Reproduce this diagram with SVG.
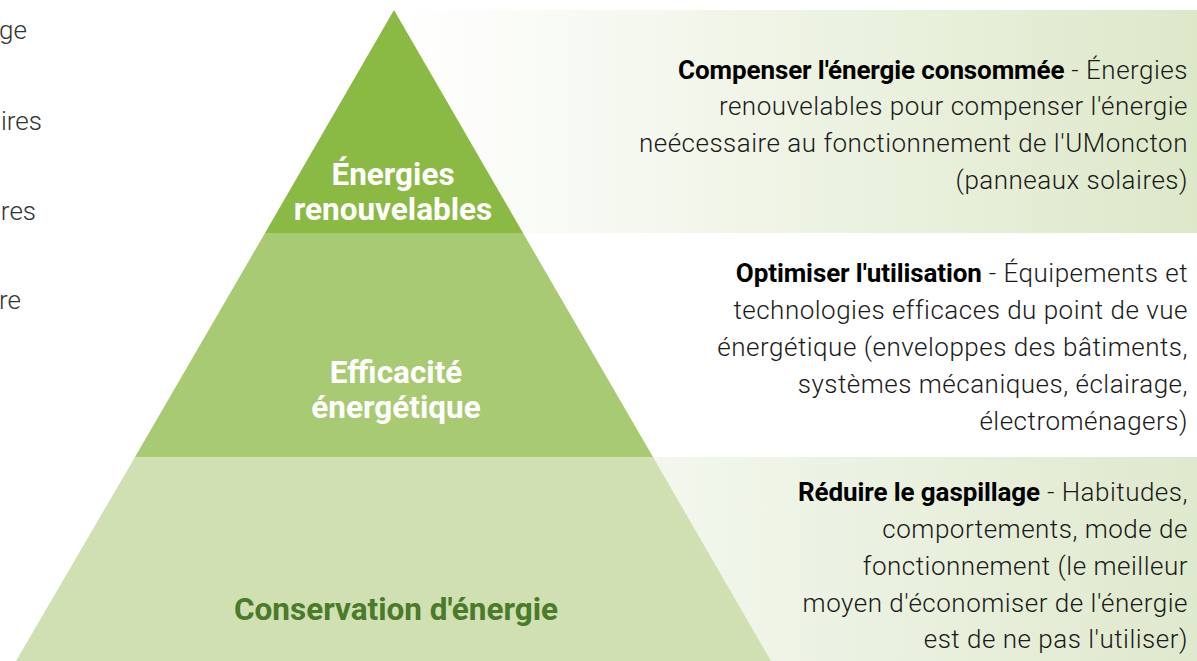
<svg xmlns="http://www.w3.org/2000/svg" width="1197" height="661" viewBox="0 0 1197 661">
<defs>
<linearGradient id="gTop" x1="0" y1="0" x2="1" y2="0">
<stop offset="0" stop-color="#ffffff"/>
<stop offset="1" stop-color="#dde8c9"/>
</linearGradient>
<linearGradient id="gBot" x1="0" y1="0" x2="1" y2="0">
<stop offset="0" stop-color="#f3f7ee"/>
<stop offset="1" stop-color="#dfe9cd"/>
</linearGradient>
<style>
.lbl{font-family:Roboto,"Liberation Sans",sans-serif;font-weight:700;text-anchor:middle;font-size:31.5px}
.desc{font-family:Roboto,"Liberation Sans",sans-serif;font-weight:300;font-size:26px;fill:#1a1a1a;text-anchor:end;letter-spacing:0.5px}
.b{font-weight:700;fill:#000;letter-spacing:-0.1px}
.frag{font-family:Roboto,"Liberation Sans",sans-serif;font-weight:300;font-size:26px;fill:#333;text-anchor:end}
</style>
</defs>
<rect x="0" y="0" width="1197" height="661" fill="#ffffff"/>
<g id="frags">
<text class="frag" x="27" y="39">ge</text>
<text class="frag" x="42" y="130">ires</text>
<text class="frag" x="36" y="220">res</text>
<text class="frag" x="21" y="309">re</text>
</g>
<rect x="400" y="10" width="797" height="223" fill="url(#gTop)"/>
<rect x="650" y="457" width="547" height="204" fill="url(#gBot)"/>
<g id="level-top">
<polygon points="394,10 523,233 265,233" fill="#8aba43"/>
<text class="lbl" x="393" y="185" fill="#ffffff">Énergies</text>
<text class="lbl" x="393" y="220" fill="#ffffff">renouvelables</text>
</g>
<g id="level-mid">
<polygon points="265,233 523,233 653,457 135,457" fill="#a8ca72"/>
<text class="lbl" x="396" y="383" fill="#ffffff">Efficacité</text>
<text class="lbl" x="396" y="418" fill="#ffffff">énergétique</text>
</g>
<g id="level-bot">
<polygon points="135,457 653,457 771,661 16,661" fill="#d0e0b2"/>
<text class="lbl" x="396" y="620" fill="#4a7a2a">Conservation d'énergie</text>
</g>
<g id="desc-top">
<text class="desc" x="1188" y="79"><tspan class="b">Compenser l'énergie consommée</tspan> - Énergies</text>
<text class="desc" x="1188" y="115">renouvelables pour compenser l'énergie</text>
<text class="desc" x="1188" y="152">neécessaire au fonctionnement de l'UMoncton</text>
<text class="desc" x="1188" y="189">(panneaux solaires)</text>
</g>
<g id="desc-mid">
<text class="desc" x="1188" y="282"><tspan class="b">Optimiser l'utilisation</tspan> - Équipements et</text>
<text class="desc" x="1188" y="319">technologies efficaces du point de vue</text>
<text class="desc" x="1188" y="356">énergétique (enveloppes des bâtiments,</text>
<text class="desc" x="1188" y="393">systèmes mécaniques, éclairage,</text>
<text class="desc" x="1188" y="430">électroménagers)</text>
</g>
<g id="desc-bot">
<text class="desc" x="1188" y="501"><tspan class="b">Réduire le gaspillage</tspan> - Habitudes,</text>
<text class="desc" x="1188" y="538">comportements, mode de</text>
<text class="desc" x="1188" y="575">fonctionnement (le meilleur</text>
<text class="desc" x="1188" y="612">moyen d'économiser de l'énergie</text>
<text class="desc" x="1188" y="648">est de ne pas l'utiliser)</text>
</g>
<g id="connectors"/>
</svg>
